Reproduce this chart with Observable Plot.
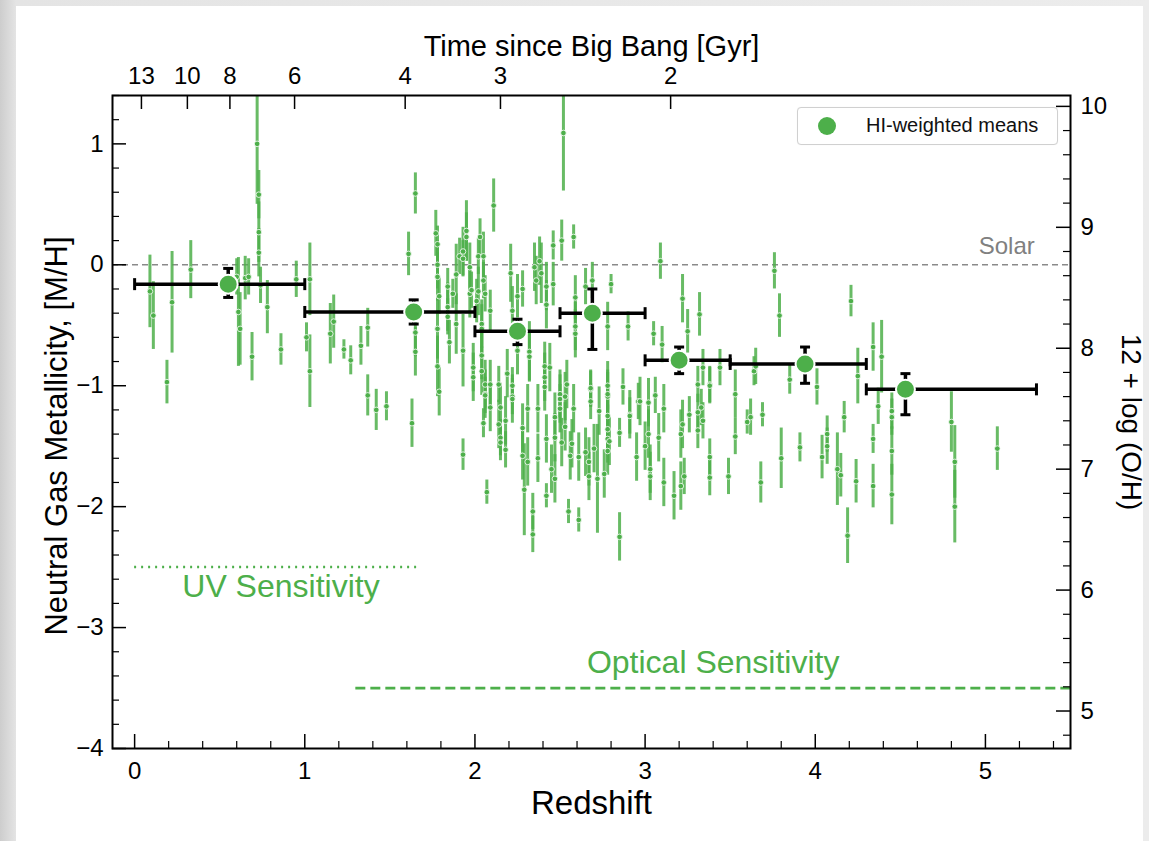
<!DOCTYPE html>
<html><head><meta charset="utf-8">
<script src="https://cdn.jsdelivr.net/npm/d3@7"></script>
<script src="https://cdn.jsdelivr.net/npm/@observablehq/plot@0.6"></script>
<style>
html,body{margin:0;padding:0;}
body{width:1149px;height:841px;background:linear-gradient(to right,#cdcdcd 0px,#e4e4e4 16px,#ececec 100%);position:relative;overflow:hidden;font-family:"Liberation Sans",Arial,Helvetica,sans-serif;}
#card{position:absolute;left:16px;top:6px;width:1127px;height:835px;background:#fff;}
#legend{position:absolute;left:781px;top:101px;width:259px;height:36px;border:1px solid #d0d0d0;border-radius:4px;background:#fff;box-shadow:0 0 1px rgba(0,0,0,0.08);}
#legend .dot{position:absolute;left:20px;top:9px;width:18px;height:18px;border-radius:50%;background:#4daf4a;}
#legend .lab{position:absolute;left:68px;top:6px;font-size:20px;color:#111;white-space:nowrap;}
</style></head>
<body><div id="card"></div>
<script>
// ---- individual absorbers: redshift, [M/H], 1-sigma error ----
const pointZ = [0.09,0.11,0.19,0.22,0.33,0.61,0.62,0.60,0.65,0.67,0.69,0.72,0.73,0.73,0.73,0.74,0.78,0.86,0.95,1.01,1.03,1.03,1.15,1.17,1.23,1.27,1.33,1.37,1.37,1.42,1.48,1.61,1.63,1.65,1.65,1.65,1.77,1.78,1.78,1.78,1.78,1.78,1.79,1.79,1.84,1.84,1.84,1.85,1.87,1.89,1.89,1.91,1.93,1.93,1.93,1.93,1.95,1.95,1.97,1.97,1.98,1.99,1.99,2.01,2.02,2.02,2.03,2.04,2.04,2.04,2.04,2.05,2.05,2.05,2.06,2.06,2.06,2.06,2.07,2.09,2.09,2.09,2.11,2.14,2.14,2.15,2.15,2.15,2.18,2.18,2.19,2.21,2.22,2.22,2.22,2.22,2.25,2.25,2.28,2.28,2.28,2.29,2.31,2.31,2.32,2.32,2.34,2.34,2.35,2.36,2.37,2.37,2.38,2.39,2.41,2.41,2.41,2.42,2.42,2.42,2.42,2.44,2.45,2.46,2.46,2.47,2.47,2.47,2.50,2.50,2.50,2.51,2.51,2.52,2.53,2.53,2.54,2.55,2.56,2.57,2.58,2.58,2.59,2.59,2.59,2.61,2.61,2.65,2.65,2.67,2.67,2.68,2.68,2.68,2.69,2.70,2.72,2.73,2.76,2.78,2.78,2.78,2.78,2.78,2.78,2.78,2.78,2.79,2.80,2.85,2.85,2.87,2.90,2.91,2.91,2.95,2.96,2.97,3.00,3.02,3.02,3.03,3.03,3.05,3.06,3.08,3.09,3.10,3.11,3.11,3.17,3.21,3.21,3.22,3.22,3.23,3.25,3.26,3.31,3.31,3.31,3.32,3.33,3.34,3.34,3.38,3.38,3.38,3.38,3.44,3.49,3.53,3.53,3.60,3.62,3.64,3.65,3.68,3.69,3.76,3.79,3.80,3.85,3.91,4.01,4.04,4.07,4.07,4.13,4.15,4.17,4.19,4.21,4.24,4.25,4.34,4.34,4.34,4.37,4.39,4.45,4.45,4.45,4.45,4.80,4.82,4.82,5.07];
const pointM = [-0.22,-0.42,-0.97,-0.31,-0.04,-0.39,-0.53,-0.10,-0.11,-0.10,-0.76,1.00,0.58,0.27,0.10,-0.17,-0.35,-0.70,-0.12,-0.60,-0.12,-0.88,-0.57,-0.47,-0.70,-0.79,-0.67,-0.52,-1.08,-1.20,-1.17,0.09,-1.31,0.59,-0.56,-0.72,0.26,0.17,0.00,-0.10,-0.53,-0.84,-1.05,-0.26,-0.43,-0.35,-0.18,-0.64,-0.24,-0.08,-0.49,0.07,0.05,0.11,-0.71,-1.57,0.28,0.23,-0.02,-0.24,-0.21,-0.85,-0.93,-0.30,0.07,-0.22,0.23,-0.49,-0.53,-0.75,-0.88,0.07,-0.13,-1.31,-0.24,-0.99,-1.07,-1.08,-1.88,-0.38,-0.99,-1.18,0.49,-0.99,-1.32,-1.18,-1.43,-1.47,-1.29,-1.53,-0.90,-0.07,-0.38,-1.00,-1.09,-1.11,-0.26,-0.71,-0.20,-1.35,-1.58,-1.86,-1.19,-1.63,-0.72,-0.76,-2.04,-2.23,-0.02,-0.13,-1.60,-1.19,0.03,-0.07,-0.84,-0.93,-1.01,-0.18,-0.33,-1.91,-1.44,-0.85,-1.69,0.16,-0.16,-1.26,-1.43,-1.77,-1.07,-1.11,-1.19,0.20,-1.47,1.09,-1.09,-1.34,-0.99,-2.04,-1.58,-1.48,0.23,-1.19,-0.27,-0.51,-0.57,-1.59,-2.11,-0.18,-1.55,-1.63,-1.75,-1.03,-1.13,-1.02,-0.13,-1.52,-1.77,-1.21,-1.73,-0.51,-1.00,-1.09,-1.25,-1.36,-1.44,-1.54,-1.07,-1.46,-0.16,-1.39,-2.25,-1.01,-0.51,-1.24,-1.25,-1.59,-1.13,-1.13,-1.50,-1.40,-1.14,-1.69,-1.75,-0.57,-1.08,-1.43,0.03,-0.66,-1.19,-1.80,-1.91,-1.40,-1.83,-0.28,-1.32,-1.75,-0.55,-1.24,-0.99,-1.22,-1.37,-0.41,-1.18,-0.85,-1.29,-0.99,-1.00,-1.59,-1.76,-0.85,-1.75,-1.07,-1.42,-1.30,-1.26,-0.88,-0.84,-1.80,-1.24,-0.05,-0.42,-1.60,-0.95,-1.51,-1.01,-1.59,-1.40,-1.50,-1.69,-1.74,-1.26,-2.24,-0.30,-1.79,-0.92,-0.68,-1.44,-1.83,-1.17,-0.76,-1.21,-1.26,-1.54,-1.90,-1.30,-1.63,-2.00,-1.52];
const pointErr = [0.30,0.28,0.18,0.42,0.24,0.45,0.30,0.15,0.18,0.15,0.20,0.50,0.20,0.25,0.20,0.15,0.22,0.13,0.15,0.12,0.30,0.30,0.25,0.22,0.08,0.12,0.16,0.16,0.17,0.17,0.12,0.18,0.20,0.17,0.20,0.20,0.19,0.15,0.20,0.20,0.25,0.25,0.20,0.15,0.15,0.20,0.15,0.18,0.12,0.25,0.25,0.15,0.15,0.20,0.30,0.13,0.25,0.20,0.20,0.20,0.15,0.20,0.20,0.18,0.15,0.20,0.15,0.20,0.20,0.20,0.20,0.20,0.15,0.12,0.15,0.20,0.20,0.15,0.10,0.17,0.20,0.20,0.22,0.15,0.20,0.20,0.15,0.15,0.20,0.15,0.20,0.24,0.20,0.15,0.15,0.20,0.18,0.20,0.15,0.20,0.20,0.38,0.20,0.20,0.25,0.20,0.15,0.15,0.20,0.20,0.20,0.20,0.20,0.25,0.20,0.20,0.20,0.20,0.20,0.10,0.20,0.20,0.20,0.12,0.18,0.20,0.20,0.20,0.20,0.20,0.20,0.17,0.20,0.48,0.20,0.20,0.20,0.10,0.20,0.20,0.10,0.20,0.18,0.20,0.20,0.20,0.10,0.15,0.20,0.20,0.20,0.15,0.15,0.15,0.15,0.20,0.45,0.20,0.20,0.20,0.20,0.20,0.20,0.20,0.20,0.20,0.20,0.20,0.08,0.12,0.20,0.15,0.12,0.20,0.15,0.20,0.15,0.20,0.20,0.20,0.20,0.20,0.20,0.10,0.15,0.20,0.15,0.15,0.20,0.20,0.20,0.20,0.20,0.20,0.20,0.15,0.18,0.15,0.15,0.15,0.15,0.18,0.15,0.15,0.15,0.15,0.15,0.15,0.15,0.15,0.15,0.20,0.15,0.10,0.15,0.12,0.15,0.17,0.10,0.15,0.18,0.25,0.12,0.12,0.15,0.18,0.15,0.15,0.30,0.18,0.13,0.23,0.13,0.18,0.23,0.20,0.12,0.18,0.15,0.30,0.15,0.15,0.20,0.25,0.25,0.30,0.30,0.18];

// ---- HI-weighted means per redshift bin ----
const meanZ = [0.55,1.64,2.25,2.69,3.20,3.94,4.53];
const meanM = [-0.16,-0.39,-0.55,-0.40,-0.79,-0.82,-1.03];
const binLo = [0.0,1.0,2.0,2.5,3.0,3.5,4.3];
const binHi = [1.0,2.0,2.5,3.0,3.5,4.3,5.3];
const meanLow = [-0.27,-0.49,-0.66,-0.70,-0.90,-0.98,-1.24];
const meanHigh = [-0.03,-0.29,-0.45,-0.20,-0.68,-0.68,-0.90];

// ---- reference levels ----
const solarLevel = 0;
const uvLevel = -2.5, uvRange = [0.0, 1.68];
const optLevel = -3.5, optRange = [1.3, 5.5];
const solarOH = 8.69;

// ---- axes ----
const xMajor = [0,1,2,3,4,5];
const xMinor = d3.range(-0.0, 5.5, 0.2).map(v => +v.toFixed(1)).filter(v => Math.abs(v - Math.round(v)) > 1e-6);
const yMajor = [-4,-3,-2,-1,0,1];
const yMinor = d3.range(-4, 1.41, 0.2).map(v => +v.toFixed(1)).filter(v => Math.abs(v - Math.round(v)) > 1e-6);
const ohMajor = [5,6,7,8,9,10];
const ohMinor = d3.range(4.8, 10.1, 0.2).map(v => +v.toFixed(1)).filter(v => Math.abs(v - Math.round(v)) > 1e-6);
const ageLabels = ["13","10","8","6","4","3","2"];
const ageZ = [0.04,0.31,0.56,0.94,1.59,2.15,3.15];

const W = 1127, H = 835, mL = 96, mR = 73, mT = 89, mB = 93;
const pw = W - mL - mR, ph = H - mT - mB;
const green = "#4daf4a";
const minus = d => (d < 0 ? "\u2212" + Math.abs(d) : String(d));

const pts = pointZ.map((z, i) => ({z, m: pointM[i], e: pointErr[i]}));
const means = meanZ.map((z, i) => ({z, m: meanM[i], lo: binLo[i], hi: binHi[i], ylo: meanLow[i], yhi: meanHigh[i]}));

const vcap = {draw(ctx) { ctx.moveTo(0, -6); ctx.lineTo(0, 6); }};
const hcap = {draw(ctx) { ctx.moveTo(-5, 0); ctx.lineTo(5, 0); }};

const chart = Plot.plot({
  width: W, height: H,
  marginLeft: mL, marginRight: mR, marginTop: mT, marginBottom: mB,
  x: {domain: [-0.13, 5.5]},
  y: {domain: [-4, 1.4]},
  style: {fontFamily: "'Liberation Sans', Arial, Helvetica, sans-serif", background: "transparent", color: "#000", overflow: "visible"},
  marks: [
    Plot.ruleY([solarLevel], {y: d => d, stroke: "#8a8a8a", strokeWidth: 1.6, strokeDasharray: "6,4"}),
    Plot.ruleY([uvLevel], {y: d => d, x1: uvRange[0], x2: uvRange[1], stroke: green, strokeWidth: 2.5, strokeDasharray: "2,5"}),
    Plot.ruleY([optLevel], {y: d => d, x1: optRange[0], x2: optRange[1], stroke: green, strokeWidth: 2.8, strokeDasharray: "10,5"}),
    Plot.ruleX(pts, {x: "z", y1: d => d.m - d.e, y2: d => d.m + d.e, stroke: green, strokeWidth: 3, strokeOpacity: 0.85, clip: true}),
    Plot.dot(pts, {x: "z", y: "m", r: 2.8, fill: green, stroke: "white", strokeWidth: 0.8}),
    // means
    Plot.ruleY(means, {y: "m", x1: "lo", x2: "hi", stroke: "black", strokeWidth: 3.5}),
    Plot.dot(means, {x: "lo", y: "m", symbol: vcap, stroke: "black", strokeWidth: 3, fill: "none"}),
    Plot.dot(means, {x: "hi", y: "m", symbol: vcap, stroke: "black", strokeWidth: 3, fill: "none"}),
    Plot.ruleX(means, {x: "z", y1: "ylo", y2: "yhi", stroke: "black", strokeWidth: 3.5}),
    Plot.dot(means, {x: "z", y: "ylo", symbol: hcap, stroke: "black", strokeWidth: 3, fill: "none"}),
    Plot.dot(means, {x: "z", y: "yhi", symbol: hcap, stroke: "black", strokeWidth: 3, fill: "none"}),
    Plot.dot(means, {x: "z", y: "m", r: 9.5, fill: green, stroke: "white", strokeWidth: 2}),
    // annotations
    Plot.text(["Solar"], {x: 5.29, y: 0.15, text: d => d, textAnchor: "end", fill: "#808080", fontSize: 24}),
    Plot.text(["UV Sensitivity"], {x: 0.86, y: -2.66, text: d => d, fill: green, fontSize: 32}),
    Plot.text(["Optical Sensitivity"], {x: 3.40, y: -3.29, text: d => d, fill: green, fontSize: 32}),
    // frame & inward ticks
    Plot.frame({stroke: "black", strokeWidth: 2}),
    Plot.tickX(xMajor, {x: d => d, insetTop: ph - 14, stroke: "black", strokeWidth: 1.5}),
    Plot.tickX(xMinor, {x: d => d, insetTop: ph - 7, stroke: "black", strokeWidth: 1.2}),
    Plot.tickX(ageZ, {x: d => d, insetBottom: ph - 14, stroke: "black", strokeWidth: 1.5}),
    Plot.tickY(yMajor, {y: d => d, insetRight: pw - 14, stroke: "black", strokeWidth: 1.5}),
    Plot.tickY(yMinor, {y: d => d, insetRight: pw - 7, stroke: "black", strokeWidth: 1.2}),
    Plot.tickY(ohMajor, {y: d => d - solarOH, insetLeft: pw - 14, stroke: "black", strokeWidth: 1.5}),
    Plot.tickY(ohMinor, {y: d => d - solarOH, insetLeft: pw - 7, stroke: "black", strokeWidth: 1.2}),
    // tick labels
    Plot.axisX(xMajor, {anchor: "bottom", tickSize: 0, tickPadding: 13, fontSize: 24, label: null, tickFormat: minus}),
    Plot.axisX(ageZ, {anchor: "top", tickSize: 0, tickPadding: 12, fontSize: 24, label: null, tickFormat: d => ageLabels[ageZ.indexOf(d)]}),
    Plot.axisY(yMajor, {anchor: "left", tickSize: 0, tickPadding: 9, fontSize: 24, label: null, tickFormat: minus}),
    Plot.axisY(ohMajor.map(o => o - solarOH), {anchor: "right", tickSize: 0, tickPadding: 10, fontSize: 24, label: null, tickFormat: d => String(Math.round(d + solarOH))}),
    // axis titles
    Plot.text(["Redshift"], {frameAnchor: "bottom", dy: 55, lineAnchor: "middle", textAnchor: "middle", text: d => d, fontSize: 33}),
    Plot.text(["Time since Big Bang [Gyr]"], {frameAnchor: "top", dy: -49, lineAnchor: "middle", textAnchor: "middle", text: d => d, fontSize: 29}),
    Plot.text(["Neutral Gas Metallicity, [M/H]"], {frameAnchor: "left", dx: -55, dy: 14, rotate: -90, lineAnchor: "middle", textAnchor: "middle", text: d => d, fontSize: 31}),
    Plot.text(["12 + log (O/H)"], {frameAnchor: "right", dx: 60, rotate: 90, lineAnchor: "middle", textAnchor: "middle", text: d => d, fontSize: 28})
  ]
});
const card = document.getElementById("card");
card.appendChild(chart);
const leg = document.createElement("div");
leg.id = "legend";
leg.innerHTML = '<div class="dot"></div><div class="lab">HI-weighted means</div>';
card.appendChild(leg);
</script></body></html>
